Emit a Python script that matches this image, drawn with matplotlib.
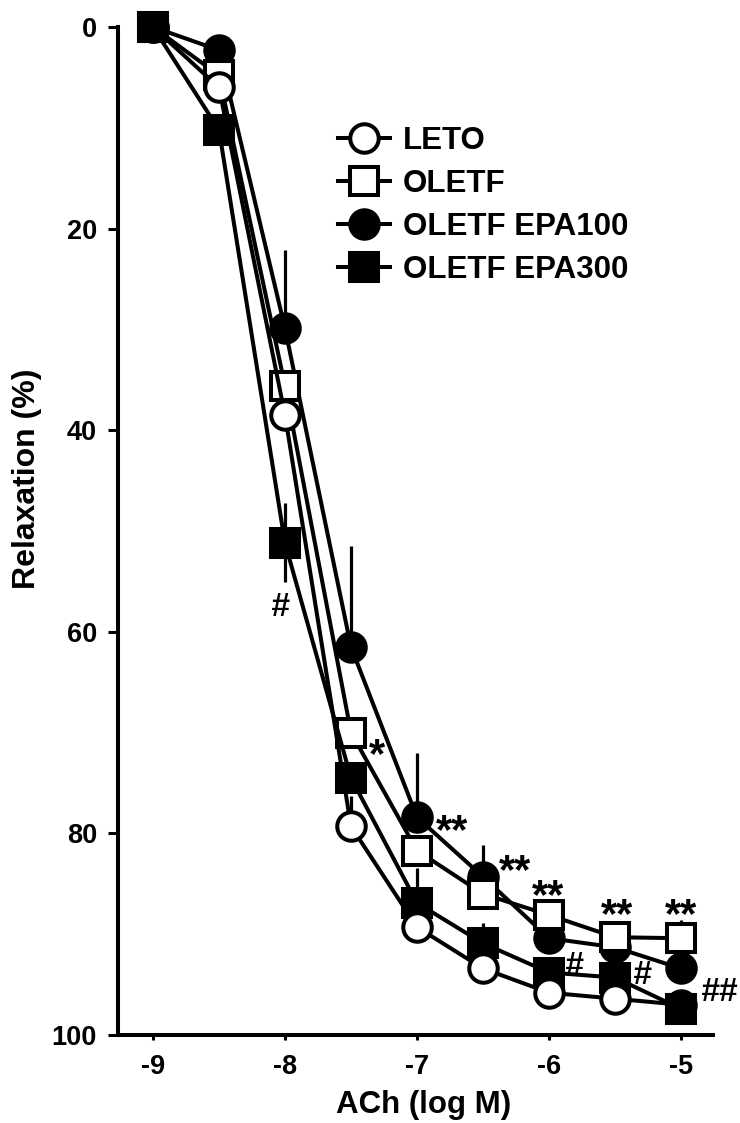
import matplotlib
matplotlib.use("Agg")
import matplotlib.pyplot as plt
import numpy as np

plt.rcParams['font.family'] = ['Liberation Sans', 'DejaVu Sans']
plt.rcParams['font.weight'] = 'bold'

# ---- data ----
log_ach = [-9, -8.5, -8, -7.5, -7, -6.5, -6, -5.5, -5]
x_ticks = [-9, -8, -7, -6, -5]
y_ticks = [0, 20, 40, 60, 80, 100]

leto = [0, 6.0, 38.5, 79.3, 89.3, 93.4, 95.8, 96.4, 97.0]
oletf = [0, 4.8, 35.6, 70.0, 81.7, 86.0, 88.1, 90.3, 90.4]
epa100 = [0, 2.3, 29.9, 61.5, 78.4, 84.3, 90.4, 91.3, 93.4]
epa300 = [0, 10.2, 51.2, 74.5, 86.9, 90.9, 93.8, 94.3, 97.4]

# error bars (toward lower relaxation value = "up" on the inverted axis)
leto_err_up = [0, 0, 0, 3.0, 0, 0, 0, 0, 0]
oletf_err_up = [0, 0, 0, 0, 0, 0, 0, 0, 1.8]
epa100_err_up = [0, 0, 7.8, 10.0, 6.4, 3.1, 0, 0, 0]
epa300_err_up = [0, 0, 4.0, 0, 3.5, 2.0, 0, 0, 0]
epa300_err_dn = [0, 0, 3.9, 0, 0, 0, 0, 0, 0]

labels = ['LETO', 'OLETF', 'OLETF EPA100', 'OLETF EPA300']

# significance marks: (text, x, y)
stars = [('*', -7.303, 71.4), ('**', -6.735, 79.0), ('**', -6.258, 82.9),
         ('**', -6.008, 85.4), ('**', -5.485, 87.3), ('**', -5.0, 87.3)]
hashes = [('#', -8.038, 57.3), ('#', -5.811, 92.9), ('#', -5.295, 93.75),
          ('##', -4.705, 95.5)]

# ---- figure ----
W, H = 740, 1123
fig = plt.figure(figsize=(W / 100, H / 100), dpi=100)
ax = fig.add_axes([118 / W, 1 - 1035 / H, 595 / W, 1008 / H])

ms = 20.5
mew = 2.9
lw = 2.9
elw = 2.3

def series(y, up, dn, marker, fc, z, label):
    ax.errorbar(log_ach, y, yerr=[up, dn], fmt='none', ecolor='black',
                elinewidth=elw, capsize=0, zorder=z, clip_on=False)
    ax.plot(log_ach, y, color='black', lw=lw, marker=marker, ms=ms,
            mfc=fc, mec='black', mew=mew, zorder=z + 0.5, clip_on=False,
            label=label)

zeros = [0] * len(log_ach)
series(epa100, epa100_err_up, zeros, 'o', 'black', 3, labels[2])
series(oletf, oletf_err_up, zeros, 's', 'white', 4, labels[1])
series(epa300, epa300_err_up, epa300_err_dn, 's', 'black', 5, labels[3])
series(leto, leto_err_up, zeros, 'o', 'white', 6, labels[0])
# EPA300 markers visible on top at the first and last concentrations
ends = [0, len(log_ach) - 1]
ax.plot([log_ach[i] for i in ends], [epa300[i] for i in ends], ls='none',
        marker='s', ms=ms, mfc='black', mec='black', mew=mew, zorder=8,
        clip_on=False)

ax.set_xlim(-9 - 35 / 132, -5 + 32 / 132)
ax.set_ylim(100, 0)

for s in ['top', 'right']:
    ax.spines[s].set_visible(False)
ax.spines['left'].set_linewidth(2.9)
ax.spines['bottom'].set_linewidth(2.9)
ax.spines['left'].set_bounds(100, 0)
ax.spines['bottom'].set_bounds(-9 - 31 / 132, -5 + 32 / 132)

ax.set_xticks(x_ticks)
ax.set_xticklabels([f'{t:d}' for t in x_ticks])
ax.set_yticks(y_ticks)
ax.set_yticklabels([str(t) for t in y_ticks])
ax.tick_params(axis='y', direction='out', length=7.2, width=2.2, pad=8,
               labelsize=19.5)
ax.tick_params(axis='x', direction='out', length=3.6, width=2.2, pad=10,
               labelsize=19.5)
for t in ax.get_xticklabels() + ax.get_yticklabels():
    t.set_fontweight('bold')

fig.text(423.5 / W, 1 - 1113 / H, 'ACh (log M)', ha='center', va='baseline',
         fontsize=22.5, fontweight='bold')
fig.text(27 / W, 1 - 479 / H, 'Relaxation (%)', ha='center', va='center',
         rotation=90, fontsize=23, fontweight='bold')

for txt, x, y in stars:
    ax.annotate(txt, xy=(x, y), xytext=(0, -14.4), textcoords='offset points',
                ha='center', va='baseline', fontsize=30, fontweight='bold',
                zorder=10, annotation_clip=False)
for txt, x, y in hashes:
    ax.annotate(txt, xy=(x, y), xytext=(0, -8.4), textcoords='offset points',
                ha='center', va='baseline', fontsize=24, fontweight='bold',
                fontstyle='italic', zorder=10, annotation_clip=False)

handles, labs = ax.get_legend_handles_labels()
order = [labs.index(l) for l in labels]
leg = fig.legend([handles[i] for i in order], [labs[i] for i in order],
                 loc='upper left', bbox_to_anchor=(338 / W, 1 - 126 / H),
                 frameon=False, handlelength=1.65,
                 handletextpad=0.42, labelspacing=0.42, borderpad=0,
                 borderaxespad=0, prop={'weight': 'bold', 'size': 22.5})

fig.savefig('out.png', dpi=100)
